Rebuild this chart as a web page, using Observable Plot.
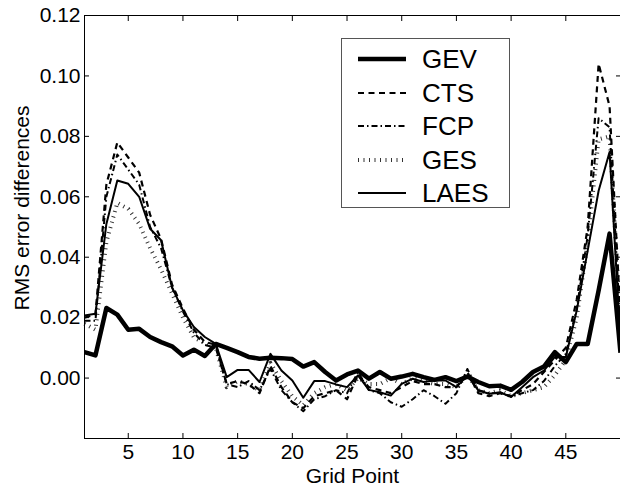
<!DOCTYPE html>
<html><head><meta charset="utf-8">
<script src="https://cdn.jsdelivr.net/npm/d3@7"></script>
<script src="https://cdn.jsdelivr.net/npm/@observablehq/plot@0.6"></script>
<style>
body{margin:0;background:#fff;font-family:"Liberation Sans",Arial,Helvetica,sans-serif;}
#wrap{position:relative;width:620px;height:486px;overflow:hidden;}
#chart svg text{font-size:21px !important;font-family:"Liberation Sans",Arial,sans-serif !important;font-variant:normal !important;}
#legend{position:absolute;left:341px;top:38px;width:169px;height:170px;border:1px solid #555;background:#fff;box-sizing:border-box;}
#legend .row{position:absolute;left:0;height:30px;width:100%;}
#legend svg{position:absolute;left:15px;top:0;}
#legend span{position:absolute;left:80px;top:0;font-size:26px;line-height:30px;color:#000;}
#ylabel{position:absolute;left:22px;top:208px;transform:translate(-50%,-50%) rotate(-90deg);white-space:nowrap;font-size:21px;color:#000;}
</style></head><body><div id="wrap"><div id="chart"></div><div id="ylabel"></div><div id="legend"></div></div>
<script>
const gridPoints = d3.range(1, 51);
const xTicks = [5, 10, 15, 20, 25, 30, 35, 40, 45];
const yTicks = [0, 0.02, 0.04, 0.06, 0.08, 0.10, 0.12];
const seriesNames = ["GEV", "CTS", "FCP", "GES", "LAES"];
const xTitle = "Grid Point";
const yTitle = "RMS error differences";

const GEV = [0.0086,0.0075,0.0232,0.021,0.016,0.0163,0.0136,0.0119,0.0105,0.0075,
  0.0094,0.0073,0.0113,0.010,0.0086,0.007,0.0064,0.0067,0.0066,0.0063,
  0.0038,0.0053,0.002,-0.0008,0.0012,0.0025,-0.0002,0.002,-0.0002,0.0005,
  0.0014,0.0003,-0.0006,0.0003,-0.001,0.0005,-0.0013,-0.0027,-0.0025,-0.0039,
  -0.0013,0.002,0.0038,0.0086,0.0053,0.0113,0.0113,0.029,0.0478,0.0084];
const CTS = [0.020,0.021,0.064,0.078,0.073,0.068,0.054,0.046,0.031,0.023,
  0.016,0.012,0.011,-0.002,-0.001,-0.002,-0.005,0.004,-0.003,-0.008,
  -0.010,-0.006,-0.005,-0.004,-0.007,0.001,-0.003,-0.004,-0.005,-0.003,
  -0.001,-0.002,-0.002,-0.003,-0.003,0.002,-0.005,-0.006,-0.005,-0.006,
  -0.004,-0.002,0.002,0.006,0.010,0.026,0.050,0.104,0.090,0.020];
const FCP = [0.019,0.019,0.060,0.074,0.069,0.064,0.050,0.043,0.030,0.022,
  0.015,0.011,0.010,-0.002,-0.003,-0.001,-0.004,0.003,-0.004,-0.008,
  -0.011,-0.007,-0.006,-0.004,-0.005,0.002,-0.004,-0.005,-0.008,-0.0095,
  -0.007,-0.004,-0.006,-0.0085,-0.005,0.003,-0.004,-0.005,-0.005,-0.006,
  -0.005,-0.004,-0.001,0.004,0.008,0.023,0.047,0.086,0.083,0.016];
const GES = [0.018,0.016,0.045,0.058,0.056,0.051,0.043,0.036,0.028,0.020,
  0.0135,0.0115,0.010,-0.003,-0.001,-0.002,-0.004,0.005,-0.001,-0.006,
  -0.009,-0.005,-0.003,-0.002,-0.004,0.000,-0.002,-0.002,0.000,-0.002,
  0.000,-0.001,-0.002,-0.002,-0.003,0.001,-0.004,-0.005,-0.004,-0.006,
  -0.005,-0.004,-0.003,0.001,0.006,0.020,0.045,0.079,0.080,0.018];
const LAES = [0.0207,0.0213,0.051,0.0654,0.0643,0.060,0.0494,0.0456,0.030,0.0224,
  0.0169,0.0136,0.0113,0.0003,0.0027,0.0027,-0.0013,0.008,0.0025,-0.0008,
  -0.0065,-0.001,-0.001,-0.0021,-0.003,0.0009,-0.0039,-0.0047,-0.0058,-0.0019,
  -0.0002,-0.0013,-0.0008,-0.0008,-0.003,0.0009,-0.0041,-0.0052,-0.0047,-0.0063,
  -0.003,0.0003,0.0025,0.007,0.007,0.0224,0.0422,0.062,0.0748,0.012];

const values = {GEV, CTS, FCP, GES, LAES};
const styles = {
  GEV:  {strokeWidth: 4.5},
  CTS:  {strokeWidth: 2.2, strokeDasharray: "6,4.5"},
  FCP:  {strokeWidth: 2, strokeDasharray: "6,3,1.5,3"},
  GES:  {strokeWidth: 4, strokeDasharray: "1,4.5", strokeOpacity: 0.8},
  LAES: {strokeWidth: 2}
};

const table = seriesNames.map(name => gridPoints.map((g, i) => ({series: name, x: g, y: values[name][i]})));

const fmt = d3.format(".2f");
const chart = Plot.plot({
  width: 620, height: 486,
  marginLeft: 84, marginRight: 0, marginTop: 15, marginBottom: 48,
  style: {fontFamily: '"Liberation Sans", Arial, sans-serif', fontSize: "21px", color: "#000", background: "#fff"},
  x: {domain: [1, 50]},
  y: {domain: [-0.02, 0.12]},
  marks: [
    Plot.frame({stroke: "#000", strokeWidth: 1}),
    ...seriesNames.map((name, k) => Plot.line(table[k], {x: "x", y: "y", stroke: "#000", strokeLinejoin: "round", strokeLinecap: "butt", ...styles[name]})),
    Plot.axisX({anchor: "bottom", ticks: xTicks, tickSize: -5, tickPadding: 11, tickFormat: d => String(d), fontSize: 21,
                label: xTitle, labelAnchor: "center", labelOffset: 44, labelArrow: "none"}),
    Plot.axisX({anchor: "top", ticks: xTicks, tickSize: -5, tickFormat: () => "", label: null}),
    Plot.axisY({anchor: "left", ticks: yTicks, tickSize: -5, tickPadding: 9, tickFormat: fmt, fontSize: 21, label: null}),
    Plot.axisY({anchor: "right", ticks: yTicks, tickSize: -5, tickFormat: () => "", label: null})
  ]
});
document.getElementById("chart").appendChild(chart);
document.getElementById("ylabel").textContent = yTitle;

// legend
const legend = document.getElementById("legend");
seriesNames.forEach((name, k) => {
  const row = document.createElement("div");
  row.className = "row";
  row.style.top = (5 + k * 33.5) + "px";
  const s = styles[name];
  row.innerHTML = `<svg width="50" height="30"><line x1="1" x2="49" y1="15" y2="15" stroke="#000"
    stroke-width="${s.strokeWidth}" ${s.strokeDasharray ? `stroke-dasharray="${s.strokeDasharray}"` : ""}
    ${s.strokeOpacity ? `stroke-opacity="${s.strokeOpacity}"` : ""}/></svg><span>${name}</span>`;
  legend.appendChild(row);
});
</script>
</body></html>
